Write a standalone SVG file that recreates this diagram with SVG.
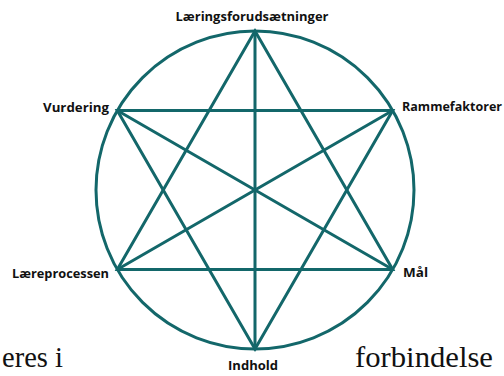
<svg xmlns="http://www.w3.org/2000/svg" width="504" height="376" viewBox="0 0 504 376">
<style>
.ln{stroke:#13676a;stroke-width:3;fill:none;stroke-linecap:round}
.lb{font-family:"Open Sans","Liberation Sans",sans-serif;font-weight:bold;font-size:12.5px;fill:#111}
.bg{font-family:"Liberation Serif",serif;font-size:29px;fill:#111}
</style>
<rect width="504" height="376" fill="#fff"/>
<g id="connectors">
<circle class="ln" cx="255" cy="190" r="159"/>
<polygon class="ln" points="255,31 117.3,269.5 392.7,269.5"/>
<polygon class="ln" points="255,349 117.3,110.5 392.7,110.5"/>
<line class="ln" x1="255" y1="31" x2="255" y2="349"/>
<line class="ln" x1="117.3" y1="110.5" x2="392.7" y2="269.5"/>
<line class="ln" x1="392.7" y1="110.5" x2="117.3" y2="269.5"/>
</g>
<g id="n-top"><text class="lb" x="252" y="21" text-anchor="middle" textLength="153" lengthAdjust="spacingAndGlyphs">Læringsforudsætninger</text></g>
<g id="n-vurdering"><text class="lb" x="109" y="112" text-anchor="end" textLength="66" lengthAdjust="spacingAndGlyphs">Vurdering</text></g>
<g id="n-ramme"><text class="lb" x="402" y="111" textLength="100" lengthAdjust="spacingAndGlyphs">Rammefaktorer</text></g>
<g id="n-laere"><text class="lb" x="109" y="278" text-anchor="end" textLength="97" lengthAdjust="spacingAndGlyphs">Læreprocessen</text></g>
<g id="n-maal"><text class="lb" x="403" y="277" textLength="25" lengthAdjust="spacingAndGlyphs">Mål</text></g>
<g id="n-indhold"><text class="lb" x="253" y="370" text-anchor="middle" textLength="50" lengthAdjust="spacingAndGlyphs">Indhold</text></g>
<text class="bg" x="2" y="367" textLength="61" lengthAdjust="spacingAndGlyphs">eres i</text>
<text class="bg" x="355" y="367" textLength="138" lengthAdjust="spacingAndGlyphs">forbindelse</text>
</svg>
